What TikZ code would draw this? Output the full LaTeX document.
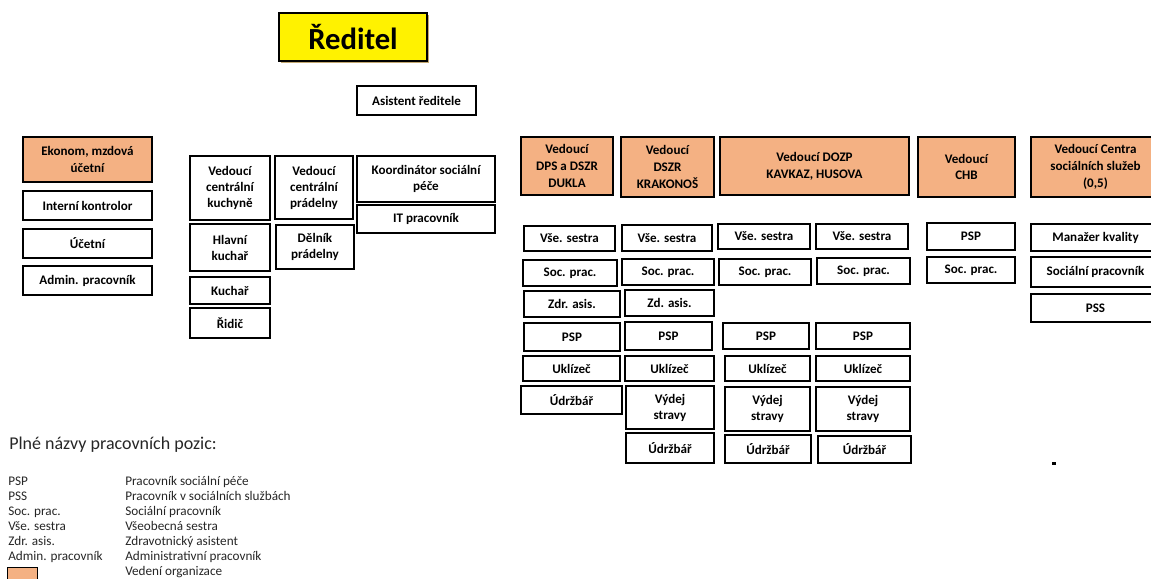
\documentclass[tikz,border=0pt]{standalone}
\usepackage{fontspec}
\setmainfont{Carlito}
\usetikzlibrary{shadows}
\definecolor{leadorange}{RGB}{244,177,131}
\definecolor{dirtan}{RGB}{196,168,112}
\begin{document}
\begin{tikzpicture}[x=0.75pt,y=-0.75pt]
\tikzstyle{every node}+=[inner sep=0pt]
\tikzstyle{sz}=[minimum width=#1*0.75pt]
\tikzstyle{ht}=[minimum height=#1*0.75pt]
\tikzstyle{box}=[draw=black,line width=1.1pt,fill=white,align=center,font=\bfseries\fontsize{9.8}{12}\selectfont]
\tikzstyle{lead}=[box,fill=leadorange,font=\bfseries\fontsize{9.8}{12.6}\selectfont]
\tikzstyle{legend}=[anchor=base west,font=\fontsize{9.9}{11}\selectfont,text=black!85]
\useasboundingbox (0,0) rectangle (1151,578);
\clip (0,0) rectangle (1151,578);
% vedeni
\node [box,sz=148,ht=48,line width=1.5pt,fill=yellow,font=\bfseries\fontsize{23}{26}\selectfont,drop shadow={shadow xshift=1.6pt,shadow yshift=-1.6pt,fill=dirtan,opacity=1}] (reditel) at (353,37) {Ředitel};
\node [box,sz=119,ht=29] (asistent) at (416.5,100.5) {Asistent ředitele};
\node [lead,sz=129,ht=45] (ekonom) at (87.5,159.5) {Ekonom, mzdová\\účetní};
\node [box,sz=129,ht=29] (kontrolor) at (87.5,205.5) {Interní kontrolor};
\node [box,sz=129,ht=29] (ucetni) at (87.5,243.5) {Účetní};
\node [box,sz=129,ht=29] (admin) at (87.5,280.5) {Admin. pracovník};
\node [box,sz=80,ht=64] (kuchyne) at (230,188) {Vedoucí\\centrální\\kuchyně};
\node [box,sz=80,ht=47] (hlkuchar) at (230,247.5) {Hlavní\\kuchař};
\node [box,sz=80,ht=27] (kuchar) at (230,290.5) {Kuchař};
\node [box,sz=80,ht=30] (ridic) at (230,323) {Řidič};
\node [box,sz=78,ht=63] (pradelna) at (314,187.5) {Vedoucí\\centrální\\prádelny};
\node [box,sz=78,ht=44] (delnik) at (315,247) {Dělník\\prádelny};
\node [box,sz=138,ht=46] (koord) at (426,179) {Koordinátor sociální\\péče};
\node [box,sz=138,ht=28] (it) at (426,219) {IT pracovník};
\node [lead,sz=92,ht=58] (dukla) at (567,166) {Vedoucí\\DPS a DSZR\\DUKLA};
\node [lead,sz=93,ht=60] (krakonos) at (667.5,167) {Vedoucí\\DSZR\\KRAKONOŠ};
\node [lead,sz=189,ht=58] (dozp) at (814.5,166) {Vedoucí DOZP\\KAVKAZ, HUSOVA};
\node [lead,sz=97,ht=60] (chb) at (966.5,167) {Vedoucí\\CHB};
\node [lead,sz=129,ht=60] (css) at (1095.5,167) {Vedoucí Centra\\sociálních služeb\\(0,5)};
% DUKLA
\node [box,sz=91,ht=25] (duklasestra) at (569.5,238.5) {Vše. sestra};
\node [box,sz=94,ht=26] (duklasoc) at (570,273) {Soc. prac.};
\node [box,sz=96,ht=26] (duklazdr) at (572,304) {Zdr. asis.};
\node [box,sz=96,ht=28] (duklapsp) at (572,337) {PSP};
\node [box,sz=97,ht=25] (duklaukl) at (571.5,368.5) {Uklízeč};
\node [box,sz=101,ht=28] (duklaudr) at (571.5,400) {Údržbář};
% KRAKONOS
\node [box,sz=90,ht=26] (krksestra) at (667,238) {Vše. sestra};
\node [box,sz=92,ht=26] (krksoc) at (668,272) {Soc. prac.};
\node [box,sz=89,ht=26] (krkzdr) at (669.5,303) {Zd. asis.};
\node [box,sz=87,ht=28] (krkpsp) at (668.5,336) {PSP};
\node [box,sz=89,ht=25] (krkukl) at (669.5,368.5) {Uklízeč};
\node [box,sz=88,ht=43] (krkvydej) at (670,407.5) {Výdej\\stravy};
\node [box,sz=88,ht=30] (krkudr) at (670,448) {Údržbář};
% KAVKAZ
\node [box,sz=92,ht=25] (kavsestra) at (764,236.5) {Vše. sestra};
\node [box,sz=92,ht=26] (kavsoc) at (765,272) {Soc. prac.};
\node [box,sz=86,ht=26] (kavpsp) at (766,336) {PSP};
\node [box,sz=85,ht=25] (kavukl) at (767.5,368.5) {Uklízeč};
\node [box,sz=85,ht=44] (kavvydej) at (767.5,409) {Výdej\\stravy};
\node [box,sz=86,ht=28] (kavudr) at (768,449) {Údržbář};
% HUSOVA
\node [box,sz=92,ht=25] (hussestra) at (862,236.5) {Vše. sestra};
\node [box,sz=93,ht=26] (hussoc) at (863.5,271) {Soc. prac.};
\node [box,sz=94,ht=26] (huspsp) at (863,336) {PSP};
\node [box,sz=94,ht=25] (husukl) at (863,368.5) {Uklízeč};
\node [box,sz=94,ht=44] (husvydej) at (863,409) {Výdej\\stravy};
\node [box,sz=93,ht=27] (husudr) at (864.5,449.5) {Údržbář};
% CHB, centrum
\node [box,sz=88,ht=27] (chbpsp) at (971,236.5) {PSP};
\node [box,sz=88,ht=26] (chbsoc) at (971,270) {Soc. prac.};
\node [box,sz=129,ht=27] (csskvalita) at (1095.5,237.5) {Manažer kvality};
\node [box,sz=129,ht=30] (csssoc) at (1095.5,272) {Sociální pracovník};
\node [box,sz=129,ht=28] (csspss) at (1095.5,308) {PSS};
\fill [black] (1052,462) rectangle (1056,465);
% legenda
\node [legend,font=\fontsize{13.5}{15}\selectfont] (nadpis) at (9,449) {Plné názvy pracovních pozic:};
\node [legend] (k1) at (8,485) {PSP};
\node [legend] (k2) at (8,500) {PSS};
\node [legend] (k3) at (8,515) {Soc. prac.};
\node [legend] (k4) at (8,530) {Vše. sestra};
\node [legend] (k5) at (8,545) {Zdr. asis.};
\node [legend] (k6) at (8,560) {Admin. pracovník};
\node [draw=black,line width=1.1pt,fill=leadorange,sz=30,ht=16,anchor=north west] (k7) at (7,567) {};
\node [legend] (v1) at (125,485) {Pracovník sociální péče};
\node [legend] (v2) at (125,500) {Pracovník v sociálních službách};
\node [legend] (v3) at (125,515) {Sociální pracovník};
\node [legend] (v4) at (125,530) {Všeobecná sestra};
\node [legend] (v5) at (125,545) {Zdravotnický asistent};
\node [legend] (v6) at (125,560) {Administrativní pracovník};
\node [legend] (v7) at (125,575) {Vedení organizace};
\end{tikzpicture}
\end{document}
